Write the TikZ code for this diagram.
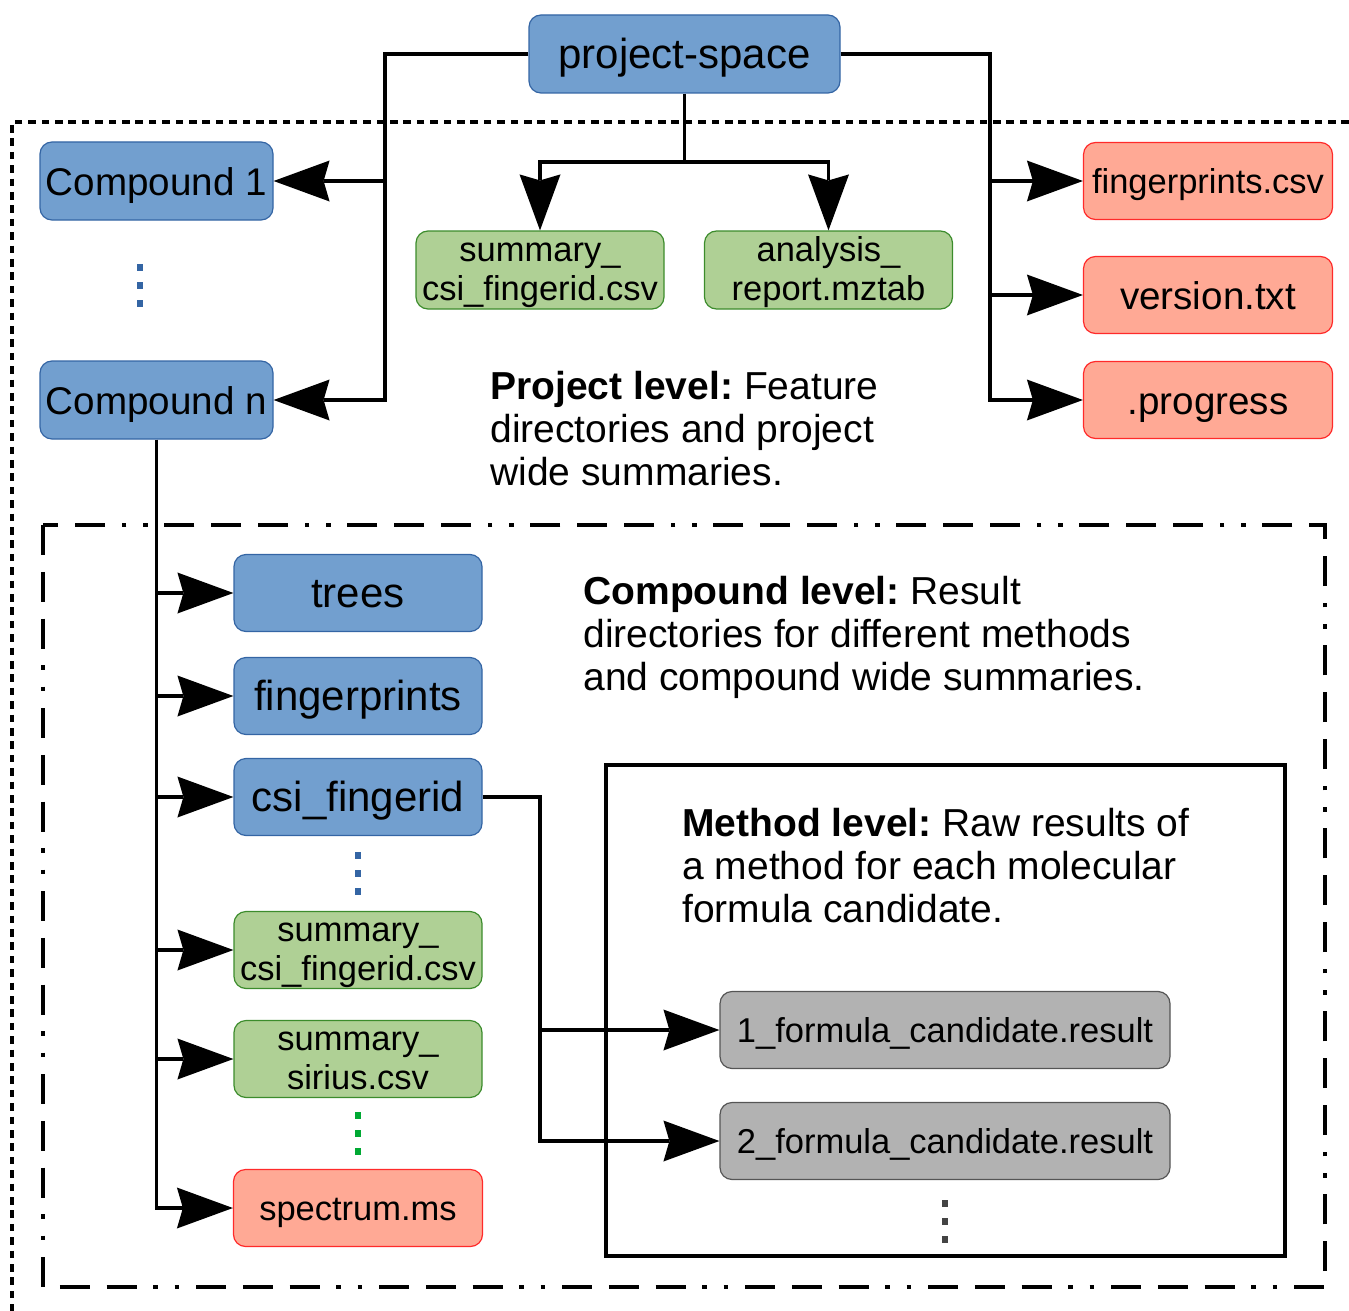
\documentclass[tikz,border=0pt]{standalone}
\usepackage{fontspec}
\setmainfont{Liberation Sans}
\usetikzlibrary{arrows.meta}
\definecolor{bfill}{HTML}{729FCF}
\definecolor{bline}{HTML}{3465A4}
\definecolor{gfill}{HTML}{AFD095}
\definecolor{gline}{HTML}{3C8C2C}
\definecolor{rfill}{HTML}{FFA995}
\definecolor{rline}{HTML}{FF2A2A}
\definecolor{kfill}{HTML}{B2B2B2}
\definecolor{kline}{HTML}{555555}
\definecolor{gdot}{HTML}{00A933}
\newcommand\FsBig{\fontsize{21}{25}\selectfont}
\newcommand\FsMid{\fontsize{19.3}{23}\selectfont}
\newcommand\FsSmall{\fontsize{17.25}{19.5}\selectfont}
\newcommand\FsDesc{\fontsize{19.5}{21.5}\selectfont}
\frenchspacing
\begin{document}
\begin{tikzpicture}[x=0.5pt,y=-0.5pt,
  box/.style={draw, rounded corners=6pt, line width=0.6pt, inner sep=0pt, align=center, minimum width=124pt, minimum height=38.5pt},
  bluebox/.style={box, fill=bfill, draw=bline},
  greenbox/.style={box, fill=gfill, draw=gline},
  redbox/.style={box, fill=rfill, draw=rline, minimum width=124.5pt},
  greybox/.style={box, fill=kfill, draw=kline, minimum width=225pt},
  big/.style={font=\FsBig, text height=14.6pt, text depth=0pt},
  mid/.style={font=\FsMid, text height=14pt, text depth=0pt},
  small/.style={font=\FsSmall, text height=12.4pt, text depth=0pt},
  twoline/.style={font=\FsSmall, text height=30pt, text depth=0pt},
  conn/.style={line width=1.6pt},
  arr/.style={-{Stealth[length=28pt,width=20.5pt,inset=3pt,line width=0pt]}},
  desc/.style={font=\FsDesc, align=left, anchor=base west, inner sep=0pt},
  dots/.style={line width=3pt, dash pattern=on 3.5pt off 5.5pt},
]
\useasboundingbox (0,0) rectangle (1349,1311);
% level frames
\draw[line width=1.65pt, dash pattern=on 3.8pt off 2.9pt] (1349,122) -- (12,122) -- (12,1311);
\draw[line width=2pt, dash pattern=on 15pt off 8.4pt on 15pt off 8.4pt on 15pt off 8.4pt on 2.25pt off 8.4pt on 2.25pt off 8.4pt] (43,525) rectangle (1325,1287);
\draw[line width=2pt] (606,765) rectangle (1285,1256);
% nodes
\node[bluebox, big, minimum width=155.5pt, minimum height=39pt] (ps) at (684.5,54) {project-space};
\node[bluebox, mid, minimum width=116.5pt, minimum height=39pt] (c1) at (156.5,181) {Compound 1};
\node[bluebox, mid, minimum width=116.5pt, minimum height=39pt] (cn) at (156.5,400) {Compound n};
\node[greenbox, twoline, minimum height=39pt] (sumtop) at (540,270) {summary\_\\csi\_fingerid.csv};
\node[greenbox, twoline, minimum height=39pt] (anal) at (828.5,270) {analysis\_\\report.mztab};
\node[redbox, small] (fcsv) at (1208,181) {fingerprints.csv};
\node[redbox, mid] (ver) at (1208,295) {version.txt};
\node[redbox, mid] (prog) at (1208,400) {.progress};
\node[bluebox, big] (trees) at (358,593) {trees};
\node[bluebox, big] (fp) at (358,696) {fingerprints};
\node[bluebox, big] (csi) at (358,797) {csi\_fingerid};
\node[greenbox, twoline] (sumcsi) at (358,950) {summary\_\\csi\_fingerid.csv};
\node[greenbox, twoline] (sumsir) at (358,1059) {summary\_\\sirius.csv};
\node[redbox, small] (spec) at (358,1208) {spectrum.ms};
\node[greybox, small] (f1) at (945,1030) {1\_formula\_candidate.result};
\node[greybox, small] (f2) at (945,1141) {2\_formula\_candidate.result};
% descriptions
\node[desc] (plev) at (490,485) {\textbf{Project level:} Feature\\directories and project\\wide summaries.};
\node[desc] (clev) at (583,690) {\textbf{Compound level:} Result\\directories for different methods\\and compound wide summaries.};
\node[desc] (mlev) at (682,922) {\textbf{Method level:} Raw results of\\a method for each molecular\\formula candidate.};
% continuation dots
\draw[dots, bline] (140,264) -- (140,307);
\draw[dots, bline] (358,852) -- (358,895);
\draw[dots, gdot] (358,1112) -- (358,1155);
\draw[dots, kline!80!black] (945,1200) -- (945,1243);
% connectors
\coordinate (lbus) at (385,0);
\draw[conn,arr] (ps.west) -| (lbus |- cn) -- (cn.east);
\draw[conn,arr] (lbus |- c1) -- (c1.east);
\coordinate (rbus) at (990,0);
\draw[conn,arr] (ps.east) -| (rbus |- prog) -- (prog.west);
\draw[conn,arr] (rbus |- fcsv) -- (fcsv.west);
\draw[conn,arr] (rbus |- ver) -- (ver.west);
\coordinate (bbus) at (684.5,162);
\draw[conn] (ps.south) -- (bbus);
\draw[conn,arr] (bbus) -| (sumtop.north);
\draw[conn,arr] (bbus) -| (anal.north);
\draw[conn,arr] (cn.south) |- (spec.west);
\foreach \n in {trees,fp,csi,sumcsi,sumsir}
  \draw[conn,arr] (cn.south |- \n.west) -- (\n.west);
\coordinate (cbus) at (540,0);
\draw[conn,arr] (csi.east) -| (cbus |- f2) -- (f2.west);
\draw[conn,arr] (cbus |- f1) -- (f1.west);
\end{tikzpicture}
\end{document}
